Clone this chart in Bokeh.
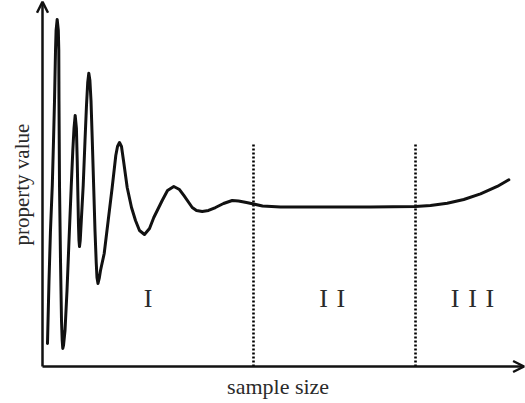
from bokeh.plotting import figure
from bokeh.models import Range1d, Arrow, OpenHead
from bokeh.core.properties import value
from bokeh.embed import file_html
from bokeh.resources import INLINE

# ---- data (arbitrary units) ----
sample_size = [1.05, 1.37, 1.68, 2.06, 2.32, 2.53, 2.74, 2.86, 3.09, 3.33, 3.43, 3.47,
               3.58, 3.79, 4.00, 4.15, 4.27, 4.42, 4.74, 5.16, 5.58, 6.04, 6.38, 6.63,
               6.88, 7.14, 7.31, 7.43, 7.58, 7.68, 7.79, 7.94, 8.17, 8.57, 8.95, 9.26,
               9.52, 9.75, 9.98, 10.21, 10.48, 10.80, 11.05, 11.31, 11.47, 11.68, 11.94,
               12.21, 12.99, 13.83, 14.67, 15.43, 15.79, 16.21, 16.63, 17.05, 17.83,
               18.74, 19.58, 20.42, 21.47, 22.53, 23.43, 25.20, 26.32, 27.64, 28.84,
               29.75, 31.52, 32.42, 33.62, 34.95, 36.42, 38.11, 39.94, 41.26, 42.95,
               44.42, 46.32, 50.11, 58.53, 69.05, 78.53, 81.68, 85.20, 88.69, 92.21,
               95.73, 98.17]
property_value = [6.42, 24.02, 37.99, 50.56, 63.13, 74.30, 88.27, 93.85, 96.93, 93.85,
                  88.27, 74.30, 50.56, 29.61, 12.85, 7.26, 5.03, 5.87, 10.06, 21.23,
                  35.20, 50.00, 60.34, 66.48, 70.11, 66.48, 57.54, 49.16, 39.39, 35.20,
                  33.52, 35.20, 40.78, 50.56, 63.13, 72.91, 79.33, 81.93, 79.89, 74.30,
                  63.13, 49.16, 37.99, 29.05, 24.86, 23.18, 24.58, 26.82, 31.56, 40.78,
                  50.00, 58.94, 61.45, 62.57, 61.45, 57.54, 50.00, 44.41, 40.78, 37.99,
                  36.87, 38.55, 41.62, 46.37, 49.16, 50.28, 49.44, 47.77, 44.41, 43.58,
                  43.30, 43.58, 44.41, 45.53, 46.37, 46.23, 45.81, 45.39, 44.83, 44.55,
                  44.55, 44.55, 44.69, 44.97, 45.61, 46.65, 48.24, 50.28, 52.15]
region_bounds = [44.42, 78.53]
region_names = ["I", "I\u2004I", "I\u2004I\u2004I"]
x_label = "sample size"
y_label = "property value"

# ---- layout constants ----
W, H = 525, 403
SX, SY = 4.75, 3.58          # pixels per data unit
OX, OY = 42, 366             # pixel position of the origin
X0, X1 = -OX / SX, (W - OX) / SX
Y0, Y1 = -(H - OY) / SY, OY / SY
region_label_x = [22.25, 60.99, 90.53]
region_label_y = [19.0, 19.0, 19.0]
FONT = value("Liberation Serif")
INK = "#111111"
TXT = "#2a2a2a"

p = figure(width=W, height=H, x_range=Range1d(X0, X1), y_range=Range1d(Y0, Y1),
           output_backend="svg", toolbar_location=None, min_border=0)
p.axis.visible = False
p.grid.visible = False
p.outline_line_color = None
p.background_fill_color = "white"
p.border_fill_color = "white"

# axes as arrows
p.add_layout(Arrow(x_start=0, y_start=0, x_end=0, y_end=Y1 - 0.35,
                   line_width=2.5, line_color=INK,
                   end=OpenHead(size=11, line_width=2.5, line_color=INK)))
p.add_layout(Arrow(x_start=0, y_start=0, x_end=X1 - 0.3, y_end=0,
                   line_width=2.5, line_color=INK,
                   end=OpenHead(size=11, line_width=2.5, line_color=INK)))

# region boundaries (dotted)
p.segment(x0=region_bounds, y0=[0, 0], x1=region_bounds, y1=[62.3, 62.3],
          line_dash="2 2", line_width=2.6, line_color="black")

# curve
p.line(sample_size, property_value, line_width=3, line_color=INK,
       line_join="round", line_cap="round")

# region labels
p.text(x=region_label_x, y=region_label_y, text=region_names,
       text_font=FONT, text_font_size="26px", text_color=TXT,
       text_align="center", text_baseline="middle")

# axis titles
p.text(x=[49.6], y=[-5.5], text=[x_label], text_font=FONT, text_font_size="22px",
       text_color=TXT, text_align="center", text_baseline="middle")
p.text(x=[-4.42], y=[50.8], text=[y_label], text_font=FONT, text_font_size="21px",
       text_color=TXT, text_align="center", text_baseline="middle",
       angle=1.5707963267948966)

open("out.html", "w").write(file_html(p, INLINE))
